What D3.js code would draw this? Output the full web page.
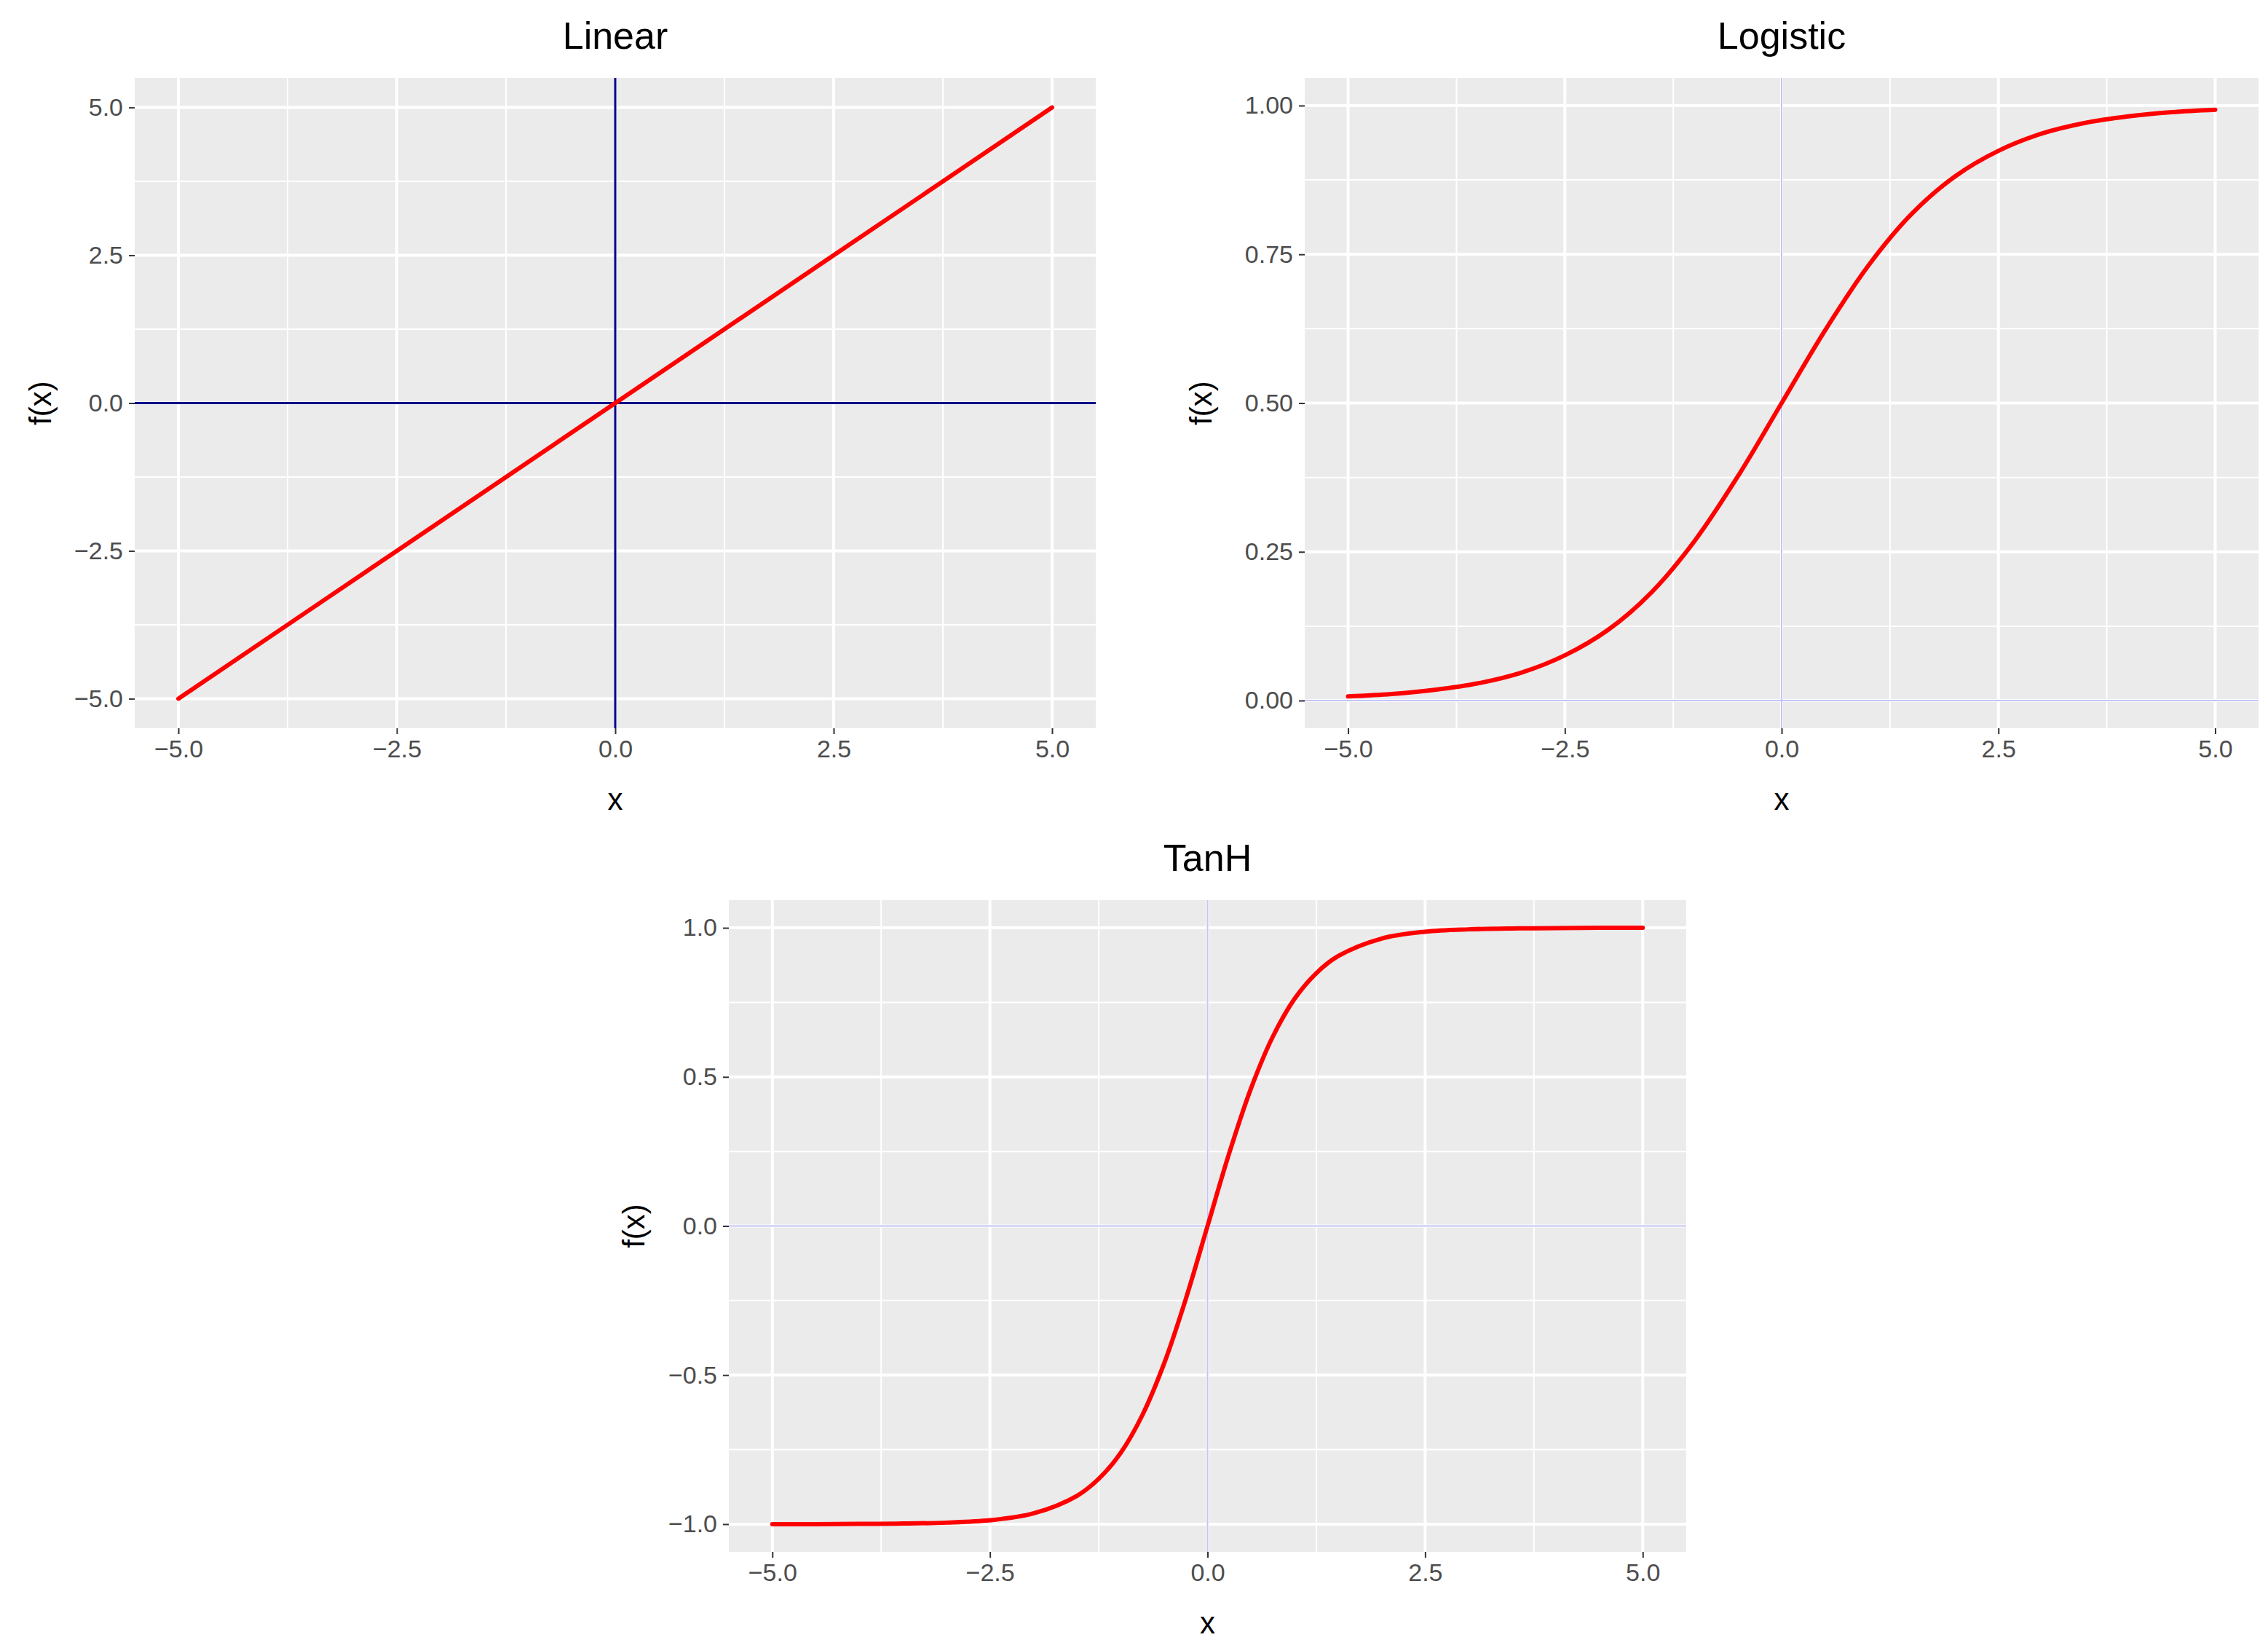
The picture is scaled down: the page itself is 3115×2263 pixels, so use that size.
<!DOCTYPE html>
<html>
<head>
<meta charset="utf-8">
<script src="https://cdn.jsdelivr.net/npm/d3@7"></script>
<style>
  body { margin: 0; background: #fff; }
  text { font-family: "Liberation Sans", Arial, sans-serif; }
</style>
</head>
<body>
<svg id="chart" width="3115" height="2263"></svg>
<script>
	// values
	var linearX = [-5, -2.5, 0, 2.5, 5];
	var linearY = [-5, -2.5, 0, 2.5, 5];

	var logisticX = [-5, -4.5, -4, -3.5, -3, -2.5, -2, -1.5, -1, -0.5, 0, 0.5, 1, 1.5, 2, 2.5, 3, 3.5, 4, 4.5, 5];
	var logisticY = [0.007, 0.011, 0.018, 0.029, 0.047, 0.076, 0.119, 0.182, 0.269, 0.378, 0.5, 0.622, 0.731, 0.818, 0.881, 0.924, 0.953, 0.971, 0.982, 0.989, 0.993];

	var tanhX = [-5, -4.5, -4, -3.5, -3, -2.5, -2, -1.5, -1.25, -1, -0.75, -0.5, -0.25, 0, 0.25, 0.5, 0.75, 1, 1.25, 1.5, 2, 2.5, 3, 3.5, 4, 4.5, 5];
	var tanhY = [-1.0, -1.0, -0.999, -0.998, -0.995, -0.987, -0.964, -0.905, -0.848, -0.762, -0.635, -0.462, -0.245, 0, 0.245, 0.462, 0.635, 0.762, 0.848, 0.905, 0.964, 0.987, 0.995, 0.998, 0.999, 1.0, 1.0];

	var xTicks = [-5, -2.5, 0, 2.5, 5];
	var linearTicks = [-5, -2.5, 0, 2.5, 5];
	var logisticTicks = [0, 0.25, 0.5, 0.75, 1];
	var tanhTicks = [-1, -0.5, 0, 0.5, 1];

	var svg = d3.select("#chart");

	function panel(o) {
		var g = svg.append("g");
		var x = d3.scaleLinear().domain([-5.5, 5.5]).range([o.left, o.right]);
		var y = d3.scaleLinear().domain(o.yDomain).range([o.bottom, o.top]);

		g.append("rect")
			.attr("x", o.left).attr("y", o.top)
			.attr("width", o.right - o.left).attr("height", o.bottom - o.top)
			.attr("fill", "#ebebeb");

		var xMinor = d3.range(0, xTicks.length - 1).map(function(i) { return (xTicks[i] + xTicks[i + 1]) / 2; });
		var yMinor = d3.range(0, o.ticks.length - 1).map(function(i) { return (o.ticks[i] + o.ticks[i + 1]) / 2; });
		var step = o.ticks[1] - o.ticks[0];
		yMinor.unshift(o.ticks[0] - step / 2);
		yMinor.push(o.ticks[o.ticks.length - 1] + step / 2);
		yMinor = yMinor.filter(function(v) { return v > o.yDomain[0] && v < o.yDomain[1]; });

		g.selectAll(".ymin").data(yMinor).enter().append("line")
			.attr("x1", o.left).attr("x2", o.right)
			.attr("y1", function(d) { return y(d); }).attr("y2", function(d) { return y(d); })
			.attr("stroke", "#fff").attr("stroke-width", 2);
		g.selectAll(".xmin").data(xMinor).enter().append("line")
			.attr("y1", o.top).attr("y2", o.bottom)
			.attr("x1", function(d) { return x(d); }).attr("x2", function(d) { return x(d); })
			.attr("stroke", "#fff").attr("stroke-width", 2);
		g.selectAll(".ymaj").data(o.ticks).enter().append("line")
			.attr("x1", o.left).attr("x2", o.right)
			.attr("y1", function(d) { return y(d); }).attr("y2", function(d) { return y(d); })
			.attr("stroke", "#fff").attr("stroke-width", 4);
		g.selectAll(".xmaj").data(xTicks).enter().append("line")
			.attr("y1", o.top).attr("y2", o.bottom)
			.attr("x1", function(d) { return x(d); }).attr("x2", function(d) { return x(d); })
			.attr("stroke", "#fff").attr("stroke-width", 4);

		// reference lines at zero
		g.append("line").attr("x1", o.left).attr("x2", o.right)
			.attr("y1", y(0)).attr("y2", y(0))
			.attr("stroke", o.refColor).attr("stroke-width", o.refWidth);
		g.append("line").attr("y1", o.top).attr("y2", o.bottom)
			.attr("x1", x(0)).attr("x2", x(0))
			.attr("stroke", o.refColor).attr("stroke-width", o.refWidth);

		var line = d3.line()
			.x(function(d) { return x(d[0]); })
			.y(function(d) { return y(d[1]); })
			.curve(d3.curveCatmullRom);
		g.append("path")
			.datum(d3.zip(o.xs, o.ys))
			.attr("fill", "none")
			.attr("stroke", "#ff0000")
			.attr("stroke-width", 6)
			.attr("stroke-linejoin", "round")
			.attr("stroke-linecap", "round")
			.attr("d", line);

		var fmt = o.fmt;
		var xa = g.append("g")
			.attr("transform", "translate(0," + o.bottom + ")")
			.call(d3.axisBottom(x).tickValues(xTicks).tickSize(8).tickPadding(8)
				.tickFormat(function(d) { return d3.format(".1f")(d).replace("-", "\u2212"); }));
		var ya = g.append("g")
			.attr("transform", "translate(" + o.left + ",0)")
			.call(d3.axisLeft(y).tickValues(o.ticks).tickSize(8).tickPadding(8)
				.tickFormat(function(d) { return d3.format(fmt)(d).replace("-", "\u2212"); }));
		[xa, ya].forEach(function(a) {
			a.select(".domain").remove();
			a.selectAll(".tick line").attr("stroke", "#333").attr("stroke-width", 2);
			a.selectAll(".tick text").attr("fill", "#4d4d4d").style("font-size", "34px");
		});

		g.append("text")
			.attr("x", (o.left + o.right) / 2).attr("y", o.top - 40)
			.attr("text-anchor", "middle")
			.style("font-size", "52px").attr("fill", "#000")
			.text(o.title);
		g.append("text")
			.attr("x", x(0)).attr("y", o.bottom + 112)
			.attr("text-anchor", "middle")
			.style("font-size", "42px").attr("fill", "#000")
			.text("x");
		g.append("text")
			.attr("transform", "translate(" + o.yLabelX + "," + (o.top + o.bottom) / 2 + ") rotate(-90)")
			.attr("text-anchor", "middle")
			.style("font-size", "42px").attr("fill", "#000")
			.text("f(x)");
	}

	panel({
		title: "Linear", xs: linearX, ys: linearY, ticks: linearTicks, fmt: ".1f",
		yDomain: [-5.5, 5.5], left: 185, right: 1505, top: 107, bottom: 1000,
		refColor: "#00008b", refWidth: 3, yLabelX: 70
	});
	panel({
		title: "Logistic", xs: logisticX, ys: logisticY, ticks: logisticTicks, fmt: ".2f",
		yDomain: [-0.0465, 1.0465], left: 1792, right: 3102, top: 107, bottom: 1000,
		refColor: "#c4c4f5", refWidth: 2, yLabelX: 1664
	});
	panel({
		title: "TanH", xs: tanhX, ys: tanhY, ticks: tanhTicks, fmt: ".1f",
		yDomain: [-1.093, 1.093], left: 1001, right: 2316, top: 1236, bottom: 2131,
		refColor: "#c4c4f5", refWidth: 2, yLabelX: 885
	});
</script>
</body>
</html>
